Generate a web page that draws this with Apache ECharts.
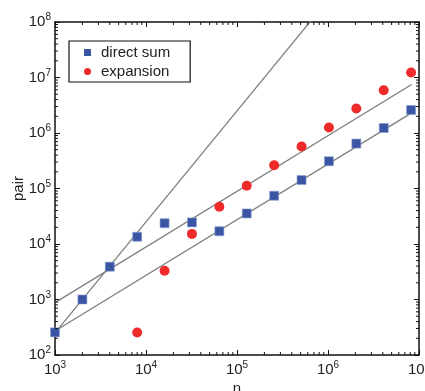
<!DOCTYPE html>
<html>
<head>
<meta charset="utf-8">
<script src="https://cdn.jsdelivr.net/npm/echarts@6/dist/echarts.min.js"></script>
<style>
  html, body { margin: 0; padding: 0; background: #fff; }
  #chart { width: 425px; height: 391px; }
</style>
</head>
<body>
<div id="chart"></div>
<script>
const font = "'Liberation Sans', Arial, sans-serif";

// problem sizes n (1000 * 2^k)
const nDirect = [1000, 2000, 4000, 8000, 16000, 32000, 64000, 128000, 256000,
  512000, 1024000, 2048000, 4096000, 8192000];
const pairDirect = [256, 1000, 3900, 13500, 23700, 24500, 17000, 35500, 74000,
  142000, 310000, 645000, 1230000, 2600000];

const nExpansion = [8000, 16000, 32000, 64000, 128000, 256000, 512000,
  1024000, 2048000, 4096000, 8192000];
const pairExpansion = [255, 3300, 15200, 47000, 112000, 263000, 570000,
  1260000, 2760000, 5900000, 12300000];

// reference lines (endpoints)
const lineSteep = [[1000, 250], [1000000, 250000000]];
const lineUpper = [[1000, 880], [8300000, 7500000]];
const lineLower = [[1000, 270], [8300000, 2300000]];

const xMinorValues = [];
const yMinorValues = [];
for (let d = 3; d < 7; d++) for (let m = 2; m <= 9; m++) xMinorValues.push(m * Math.pow(10, d));
for (let d = 2; d < 8; d++) for (let m = 2; m <= 9; m++) yMinorValues.push(m * Math.pow(10, d));

const xMin = 1e3, xMax = 1e7, yMin = 1e2, yMax = 1e8;

function zip(xs, ys) {
  return xs.map((x, i) => [x, ys[i]]);
}

function powLabel(v) {
  const e = Math.round(Math.log10(v));
  return '{b|10}{s|' + e + '}';
}

const labelRich = {
  b: { fontSize: 15, fontFamily: font, color: '#222' },
  s: { fontSize: 10, fontFamily: font, color: '#222', padding: [0, 0, 9, 0] },
};

const minorData = xMinorValues.map(v => [v, yMin, 0])
  .concat(yMinorValues.map(v => [xMin, v, 1]));

function renderMinor(params, api) {
  const kind = api.value(2);
  const len = 3;
  const style = { stroke: '#111', lineWidth: 1 };
  if (kind === 0) {
    const b = api.coord([api.value(0), yMin]);
    const t = api.coord([api.value(0), yMax]);
    return {
      type: 'group',
      children: [
        { type: 'line', shape: { x1: b[0], y1: b[1], x2: b[0], y2: b[1] - len }, style },
        { type: 'line', shape: { x1: t[0], y1: t[1], x2: t[0], y2: t[1] + len }, style },
      ],
    };
  }
  const l = api.coord([xMin, api.value(1)]);
  const r = api.coord([xMax, api.value(1)]);
  return {
    type: 'group',
    children: [
      { type: 'line', shape: { x1: l[0], y1: l[1], x2: l[0] + len, y2: l[1] }, style },
      { type: 'line', shape: { x1: r[0], y1: r[1], x2: r[0] - len, y2: r[1] }, style },
    ],
  };
}

const axisLine = { show: true, onZero: false, lineStyle: { color: '#111', width: 1.5 } };
const axisTick = { show: true, inside: true, length: 5, lineStyle: { color: '#111', width: 1 } };

const chart = echarts.init(document.getElementById('chart'));
chart.setOption({
  animation: false,
  backgroundColor: '#fff',
  grid: { left: 55, right: 6, top: 22, bottom: 36, outerBoundsMode: 'none', containLabel: false },
  legend: {
    data: [
      { name: 'direct sum', icon: 'rect' },
      { name: 'expansion', icon: 'circle' },
    ],
    orient: 'vertical',
    left: 69,
    top: 41,
    itemWidth: 7,
    itemHeight: 7,
    itemGap: 4,
    padding: [4, 20, 3, 15],
    borderColor: '#111',
    borderWidth: 1.2,
    borderRadius: 0,
    itemStyle: { borderWidth: 0 },
    textStyle: { fontSize: 15, fontFamily: font, color: '#222', padding: [0, 0, 0, 5] },
  },
  xAxis: [
    {
      type: 'log', min: xMin, max: xMax, position: 'bottom',
      name: 'n', nameLocation: 'middle', nameGap: 26, nameMoveOverlap: false,
      nameTextStyle: { fontSize: 15, fontFamily: font, color: '#222' },
      axisLine, axisTick,
      axisLabel: { formatter: powLabel, rich: labelRich, margin: 5 },
      splitLine: { show: false },
    },
    {
      type: 'log', min: xMin, max: xMax, position: 'top',
      axisLine, axisTick, axisLabel: { show: false }, splitLine: { show: false },
    },
  ],
  yAxis: [
    {
      type: 'log', min: yMin, max: yMax, position: 'left',
      name: 'pair', nameLocation: 'middle', nameGap: 29, nameMoveOverlap: false,
      nameTextStyle: { fontSize: 15, fontFamily: font, color: '#222' },
      axisLine, axisTick,
      axisLabel: { formatter: powLabel, rich: labelRich, margin: 4 },
      splitLine: { show: false },
    },
    {
      type: 'log', min: yMin, max: yMax, position: 'right',
      axisLine, axisTick, axisLabel: { show: false }, splitLine: { show: false },
    },
  ],
  series: [
    {
      type: 'line', data: lineSteep, symbol: 'none', clip: true, silent: true,
      lineStyle: { color: '#7f7f7f', width: 1.3 }, z: 1,
    },
    {
      type: 'line', data: lineUpper, symbol: 'none', clip: true, silent: true,
      lineStyle: { color: '#7f7f7f', width: 1.3 }, z: 1,
    },
    {
      type: 'line', data: lineLower, symbol: 'none', clip: true, silent: true,
      lineStyle: { color: '#7f7f7f', width: 1.3 }, z: 1,
    },
    {
      name: 'direct sum', type: 'scatter', data: zip(nDirect, pairDirect),
      symbol: 'rect', symbolSize: 9,
      itemStyle: { color: '#3a55a4', borderColor: '#8a9ccc', borderWidth: 0.6, opacity: 1 }, z: 3,
    },
    {
      name: 'expansion', type: 'scatter', data: zip(nExpansion, pairExpansion),
      symbol: 'circle', symbolSize: 10,
      itemStyle: { color: '#ee2a2a', opacity: 1 }, z: 3,
    },
    {
      type: 'custom', data: minorData, renderItem: renderMinor,
      clip: false, silent: true, z: 4,
    },
  ],
});
</script>
</body>
</html>
